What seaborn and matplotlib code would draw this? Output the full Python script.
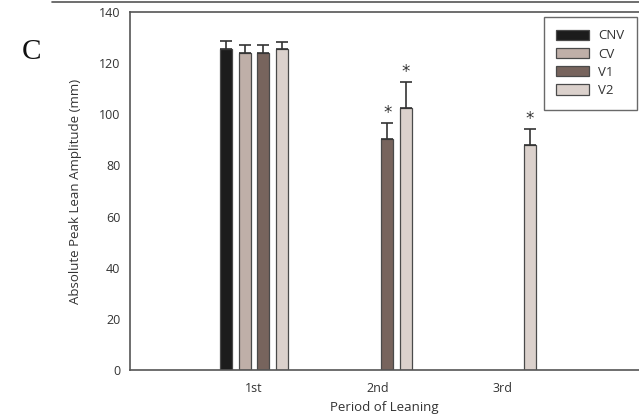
import numpy as np
import pandas as pd
import matplotlib
matplotlib.use("Agg")
import matplotlib.pyplot as plt
import seaborn as sns

periods = ["1st", "2nd", "3rd"]
groups = ["CNV", "CV", "V1", "V2"]
cnv = [125.4, np.nan, np.nan]
cv = [124.1, np.nan, np.nan]
v1 = [124.1, 90.3, np.nan]
v2 = [125.4, 102.3, 88.1]
cnv_err = [3.1, np.nan, np.nan]
cv_err = [3.0, np.nan, np.nan]
v1_err = [3.0, 6.4, np.nan]
v2_err = [2.9, 10.3, 6.0]
cnv_sig = [False, False, False]
cv_sig = [False, False, False]
v1_sig = [False, True, False]
v2_sig = [False, True, True]
colors = ["#1c1c1c", "#c3aea4", "#7c6258", "#ddd0ca"]

sns.set_theme(style="white")
plt.rcParams['font.family'] = ['Open Sans', 'DejaVu Sans']

rows = []
for g, vals, errs, sigs in zip(groups, [cnv, cv, v1, v2], [cnv_err, cv_err, v1_err, v2_err],
                               [cnv_sig, cv_sig, v1_sig, v2_sig]):
    for i, (p, v, e, s) in enumerate(zip(periods, vals, errs, sigs)):
        if not np.isnan(v):
            rows.append(dict(period=p, pos=i + 1, group=g, value=v, err=e, sig=s))
df = pd.DataFrame(rows)

fig = plt.figure(figsize=(6.39, 4.2), dpi=100)
W, H = 639, 420
ax = fig.add_axes([130 / W, 1 - 370 / H, (W - 130) / W, (370 - 12) / H])

sns.barplot(data=df, x="pos", y="value", hue="group", hue_order=groups, native_scale=True,
            palette=colors, width=0.595, gap=0.35, errorbar=None, edgecolor="#4a4a4a",
            linewidth=0.9, ax=ax, legend=True)

for g, cont in zip(groups, ax.containers):
    sub = df[df.group == g].sort_values("pos")
    for (_, r), bar in zip(sub.iterrows(), cont):
        xc = bar.get_x() + bar.get_width() / 2
        h = bar.get_height()
        e = r["err"]
        ax.errorbar(xc, h, yerr=[[0], [e]], fmt="none", ecolor="#333333", elinewidth=1.2,
                    capsize=4.2, capthick=1.2, zorder=3)
        if r["sig"]:
            ax.text(xc, h + e + 0.4, "*", ha="center", va="bottom", fontsize=12,
                    color="#333333", fontfamily="DejaVu Sans")

ax.set_ylim(0, 140)
ax.set_yticks(np.arange(0, 141, 20))
ax.set_xticks([1, 2, 3])
ax.set_xticklabels(periods)
ax.set_xlim(0, (W - 130) / 124)

for side in ["left", "bottom", "top"]:
    ax.spines[side].set_visible(True)
    ax.spines[side].set_color("#555555")
    ax.spines[side].set_linewidth(1.2)
ax.spines["right"].set_visible(False)
ax.tick_params(axis="both", which="both", direction="out", length=4, width=1.1,
               color="#555555", labelsize=9, labelcolor="#333333", pad=3)
ax.tick_params(axis="x", pad=5)

ax.set_xlabel("Period of Leaning", fontsize=9.5, color="#333333", labelpad=4)
ax.set_ylabel("Absolute Peak Lean Amplitude (mm)", fontsize=9.5, color="#333333", labelpad=12)

handles, labels = ax.get_legend_handles_labels()
leg = ax.legend(handles, labels, loc="upper right", bbox_to_anchor=(637 / W, 1 - 16.7 / H),
                bbox_transform=fig.transFigure, fontsize=9.5, frameon=True, fancybox=False,
                edgecolor="#444444", handlelength=2.5, handleheight=0.8, labelspacing=0.4,
                borderpad=0.95, handletextpad=0.7, borderaxespad=0)
leg.get_frame().set_linewidth(1.0)
for t in leg.get_texts():
    t.set_color("#333333")

fig.text(22 / W, 1 - 52 / H, "C", fontsize=21, fontfamily="Liberation Serif", va="center",
         ha="left", color="#111111")
fig.add_artist(plt.Line2D([52 / W, 1], [1 - 1.5 / H, 1 - 1.5 / H], color="#555555", lw=1.2))

fig.savefig("out.png", dpi=100)
